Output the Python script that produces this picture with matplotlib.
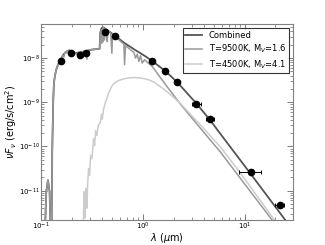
import matplotlib
matplotlib.use("Agg")
import matplotlib.pyplot as plt
import numpy as np

# photometry (wavelength in micron, nu F_nu in erg/s/cm^2)
phot_wave = [0.157, 0.198, 0.239, 0.276, 0.424, 0.527, 1.235, 1.662, 2.159, 3.35, 4.6, 11.56, 22.08]
phot_flux = [8.42e-9, 1.29e-8, 1.19e-8, 1.29e-8, 3.89e-8, 3.21e-8, 8.57e-9, 5.03e-9, 2.81e-9,
             9.02e-10, 4.09e-10, 2.62e-11, 4.78e-12]
phot_wlo = [0.157, 0.198, 0.239, 0.276, 0.424, 0.527, 1.235, 1.662, 2.159, 3.0, 4.12, 8.74, 20.0]
phot_whi = [0.157, 0.198, 0.239, 0.276, 0.424, 0.527, 1.235, 1.662, 2.159, 3.75, 5.04, 14.46, 24.1]

# combined model
comb_wave = [0.1054, 0.1128, 0.1171, 0.1216, 0.1244, 0.1272, 0.1291, 0.1321, 0.1341, 0.1372,
             0.1414, 0.1468, 0.1559, 0.1656, 0.1758, 0.1881, 0.2028, 0.2187, 0.2358, 0.2542,
             0.2741, 0.3068, 0.3435, 0.3760, 0.3817, 0.3934, 0.4116, 0.4470, 0.5275, 0.6513,
             0.8161, 1.038, 1.235, 1.656, 2.171, 3.358, 4.538, 5.772, 11.54, 24.12, 29.78]
comb_flux = [1e-13, 9.5e-12, 1.73e-11, 9.5e-12, 1e-12, 1e-12, 8.87e-11, 1.17e-9, 2.76e-9, 4.02e-9,
             5.48e-9, 7.09e-9, 9.18e-9, 1.19e-8, 1.36e-8, 1.49e-8, 1.41e-8, 1.29e-8, 1.34e-8, 1.39e-8,
             1.41e-8, 1.54e-8, 1.59e-8, 1.62e-8, 3.76e-8, 4.78e-8, 4.94e-8, 4.30e-8, 3.27e-8, 2.24e-8,
             1.59e-8, 1.13e-8, 8.57e-9, 5.12e-9, 2.85e-9, 9.33e-10, 4.02e-10, 1.92e-10, 2.32e-11,
             2.40e-12, 1.25e-12]

# hot component, T=9500K
hot_wave = [0.1054, 0.1128, 0.1171, 0.1216, 0.1244, 0.1272, 0.1291, 0.1321, 0.1341, 0.1372,
            0.1414, 0.1468, 0.1512, 0.1559, 0.1594, 0.1631, 0.1681, 0.1719, 0.1758, 0.1812,
            0.1854, 0.1910, 0.1983, 0.2028, 0.2106, 0.2187, 0.2271, 0.2358, 0.2449, 0.2542,
            0.2741, 0.2825, 0.2889, 0.3068, 0.3435, 0.3760, 0.3817, 0.3875, 0.3934, 0.3994,
            0.4054, 0.4116, 0.4209, 0.4273, 0.4404, 0.4470, 0.4538, 0.4819, 0.4966, 0.5041,
            0.5395, 0.6039, 0.6513, 0.6612, 0.6763, 0.7570, 0.8161, 0.8475, 0.8800, 0.9137,
            0.9486, 0.9851, 1.038, 1.145, 1.235, 1.490, 1.732, 2.341, 3.677, 5.772, 9.069,
            18.53, 29.78]
hot_flux = [1e-13, 9.5e-12, 1.73e-11, 9.5e-12, 1e-12, 1e-12, 8.87e-11, 1.17e-9, 2.76e-9, 4.02e-9,
            5.48e-9, 7.09e-9, 7.80e-9, 9.18e-9, 8.60e-9, 1.13e-8, 1.05e-8, 1.36e-8, 1.28e-8, 1.49e-8,
            1.30e-8, 1.54e-8, 1.25e-8, 1.41e-8, 1.30e-8, 1.29e-8, 1.20e-8, 1.34e-8, 1.28e-8, 1.39e-8,
            1.41e-8, 9.50e-9, 1.49e-8, 1.54e-8, 1.59e-8, 1.62e-8, 3.06e-8, 3.95e-8, 2.17e-8, 4.46e-8,
            2.36e-8, 4.94e-8, 2.57e-8, 4.62e-8, 4.30e-8, 2.36e-8, 4.16e-8, 3.76e-8, 1.29e-8, 3.51e-8,
            3.01e-8, 2.40e-8, 2.06e-8, 7.09e-9, 1.92e-8, 1.54e-8, 1.34e-8, 1.0e-8, 1.23e-8, 8.42e-9,
            1.13e-8, 7.73e-9, 9.18e-9, 7.47e-9, 6.51e-9, 3.57e-9, 2.24e-9, 9.02e-10, 2.57e-10,
            7.46e-11, 1.89e-11, 2.17e-12, 5.12e-13]

# cool component, T=4500K
cool_wave = [0.2581, 0.2620, 0.2660, 0.2700, 0.2741, 0.2782, 0.2825, 0.2867, 0.2933, 0.3000,
             0.3068, 0.3162, 0.3283, 0.3358, 0.3435, 0.3540, 0.3648, 0.3817, 0.3934, 0.3994,
             0.4116, 0.4273, 0.4470, 0.4607, 0.4783, 0.5003, 0.5195, 0.5602, 0.6039, 0.6513,
             0.7291, 0.8161, 0.9137, 1.023, 1.145, 1.282, 1.490, 1.732, 2.013, 2.341, 2.720,
             3.677, 5.772, 9.069, 19.54, 29.78]
cool_flux = [1e-12, 3.39e-12, 9.51e-12, 2.40e-12, 8.00e-12, 1.13e-11, 4.02e-12, 1.34e-11, 3.16e-11,
             2.24e-11, 6.29e-11, 5.30e-11, 1.49e-10, 1.05e-10, 2.28e-10, 1.76e-10, 2.95e-10, 3.51e-10,
             5.38e-10, 4.16e-10, 6.97e-10, 9.84e-10, 1.27e-9, 1.64e-9, 1.95e-9, 2.40e-9, 2.66e-9,
             3.00e-9, 3.22e-9, 3.39e-9, 3.57e-9, 3.63e-9, 3.57e-9, 3.44e-9, 3.22e-9, 2.85e-9,
             2.24e-9, 1.73e-9, 1.27e-9, 9.33e-10, 6.40e-10, 3.06e-10, 9.67e-11, 2.49e-11, 2.17e-12,
             5.87e-13]

fig = plt.figure(figsize=(3.25, 2.45), dpi=100)
ax = fig.add_axes([0.126, 0.102, 0.776, 0.800])

ax.plot(comb_wave, comb_flux, color='#555555', lw=1.3, label='Combined', zorder=2)
ax.plot(hot_wave, hot_flux, color='#999999', lw=1.1, label=r'T=9500K, M$_V$=1.6', zorder=3)
ax.plot(cool_wave, cool_flux, color='#cccccc', lw=1.1, label=r'T=4500K, M$_V$=4.1', zorder=4)

w = np.array(phot_wave)
xerr = [w - np.array(phot_wlo), np.array(phot_whi) - w]
ax.errorbar(phot_wave, phot_flux, xerr=xerr, fmt='o', color='black', ms=4.5,
            elinewidth=0.7, capsize=1.5, capthick=0.7, zorder=5)

ax.set_xscale('log')
ax.set_yscale('log')
ax.set_xlim(0.1, 29.8)
ax.set_ylim(2.17e-12, 5.9e-8)

ax.tick_params(which='both', direction='in', top=True, right=True, color='0.4', labelsize=5, pad=1)
ax.tick_params(axis='x', which='both', pad=0.5)
ax.tick_params(which='major', length=4, width=0.6)
ax.tick_params(which='minor', length=2, width=0.5)
for s in ax.spines.values():
    s.set_color('0.5')
    s.set_linewidth(0.8)

ax.set_xlabel(r'$\lambda$ ($\mu$m)', fontsize=7, labelpad=-1)
ax.set_ylabel(r'$\nu F_\nu$ (erg/s/cm$^2$)', fontsize=7, labelpad=0)

leg = ax.legend(loc='upper right', fontsize=6, fancybox=False, borderaxespad=0.45,
                handlelength=2.0, labelspacing=0.35, borderpad=0.35)
leg.get_frame().set_edgecolor('black')
leg.get_frame().set_linewidth(0.8)

fig.savefig('out.png', dpi=100)
